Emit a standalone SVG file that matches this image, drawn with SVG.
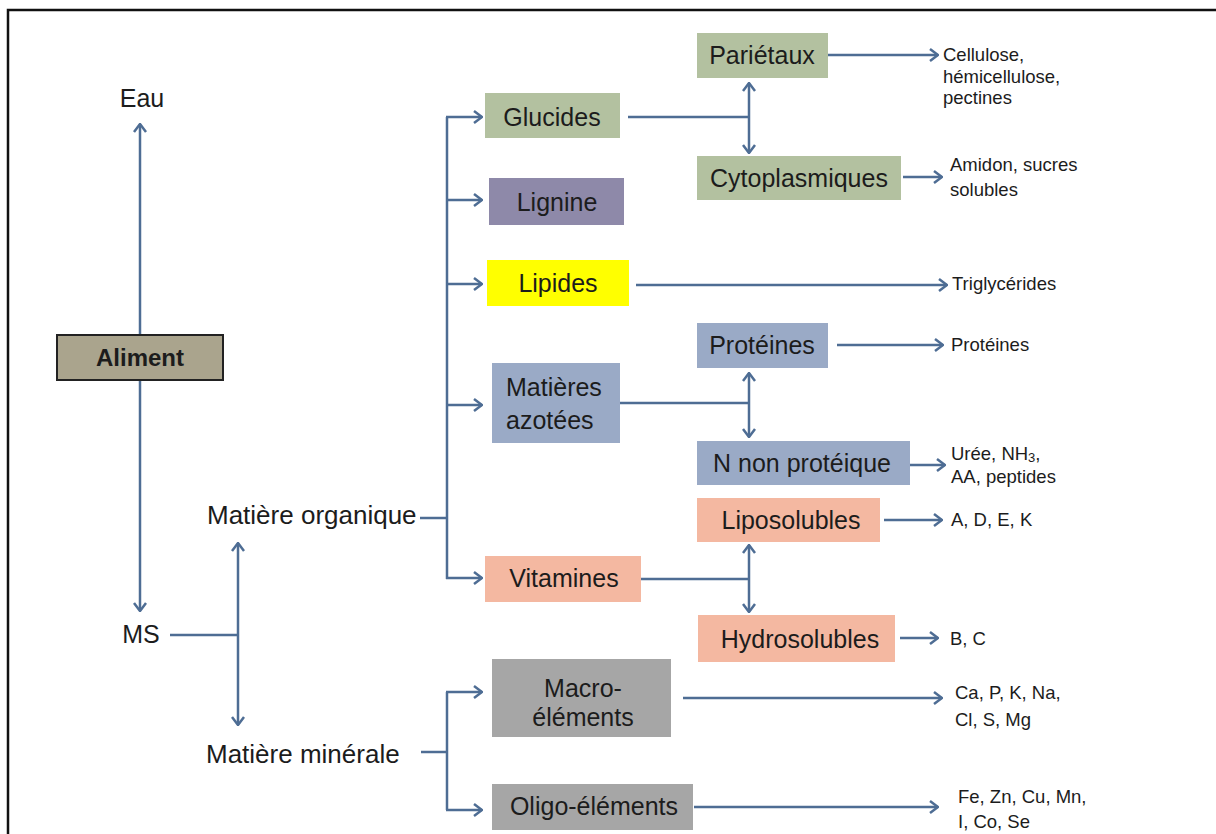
<svg xmlns="http://www.w3.org/2000/svg" width="1216" height="834" viewBox="0 0 1216 834">
<style>
.t{font-family:"Liberation Sans",Arial,sans-serif;fill:#1c1c1c}
.L{font-size:25px}
.S{font-size:18.5px}
.m{text-anchor:middle}
.c{fill:none;stroke:#4e6d94;stroke-width:2.5}
.green{fill:#b3c1a0}
.purple{fill:#8e89a9}
.yellow{fill:#ffff00}
.blue{fill:#9aaac6}
.salmon{fill:#f4b8a1}
.gray{fill:#a6a6a6}
</style>
<defs>
<marker id="ah" viewBox="0 0 10 14" refX="9" refY="7" markerWidth="10" markerHeight="14" orient="auto-start-reverse" markerUnits="userSpaceOnUse">
<path d="M1,1 L9,7 L1,13" fill="none" stroke="#4e6d94" stroke-width="2.5"/>
</marker>
</defs>
<rect width="1216" height="834" fill="#ffffff"/>
<path d="M8,834 L8,10 L1216,10" fill="none" stroke="#111" stroke-width="2.5"/>

<g id="connectors">
<line class="c" x1="140" y1="335" x2="140" y2="124" marker-end="url(#ah)"/>
<line class="c" x1="140" y1="381" x2="140" y2="611" marker-end="url(#ah)"/>
<line class="c" x1="170" y1="635" x2="238" y2="635"/>
<line class="c" x1="238" y1="543" x2="238" y2="725" marker-start="url(#ah)" marker-end="url(#ah)"/>
<line class="c" x1="420" y1="518" x2="447" y2="518"/>
<line class="c" x1="447" y1="117" x2="447" y2="579"/>
<line class="c" x1="446" y1="117" x2="482" y2="117" marker-end="url(#ah)"/>
<line class="c" x1="446" y1="200" x2="482" y2="200" marker-end="url(#ah)"/>
<line class="c" x1="446" y1="284" x2="482" y2="284" marker-end="url(#ah)"/>
<line class="c" x1="446" y1="405" x2="482" y2="405" marker-end="url(#ah)"/>
<line class="c" x1="446" y1="578" x2="482" y2="578" marker-end="url(#ah)"/>
<line class="c" x1="421" y1="752" x2="447" y2="752"/>
<line class="c" x1="447" y1="692" x2="447" y2="810"/>
<line class="c" x1="446" y1="692" x2="482" y2="692" marker-end="url(#ah)"/>
<line class="c" x1="446" y1="810" x2="482" y2="810" marker-end="url(#ah)"/>
<line class="c" x1="628" y1="117" x2="749" y2="117"/>
<line class="c" x1="749" y1="83" x2="749" y2="153" marker-start="url(#ah)" marker-end="url(#ah)"/>
<line class="c" x1="826" y1="55" x2="938" y2="55" marker-end="url(#ah)"/>
<line class="c" x1="903" y1="177" x2="942" y2="177" marker-end="url(#ah)"/>
<line class="c" x1="636" y1="285" x2="947" y2="285" marker-end="url(#ah)"/>
<line class="c" x1="620" y1="403" x2="749" y2="403"/>
<line class="c" x1="749" y1="373" x2="749" y2="437" marker-start="url(#ah)" marker-end="url(#ah)"/>
<line class="c" x1="837" y1="345" x2="943" y2="345" marker-end="url(#ah)"/>
<line class="c" x1="906" y1="465" x2="945" y2="465" marker-end="url(#ah)"/>
<line class="c" x1="641" y1="579" x2="749" y2="579"/>
<line class="c" x1="749" y1="545" x2="749" y2="612" marker-start="url(#ah)" marker-end="url(#ah)"/>
<line class="c" x1="884" y1="520" x2="942" y2="520" marker-end="url(#ah)"/>
<line class="c" x1="900" y1="638" x2="938" y2="638" marker-end="url(#ah)"/>
<line class="c" x1="683" y1="698" x2="942" y2="698" marker-end="url(#ah)"/>
<line class="c" x1="694" y1="807" x2="938" y2="807" marker-end="url(#ah)"/>
</g>

<g id="eau"><text class="t L m" x="142" y="107">Eau</text></g>
<g id="aliment">
<rect x="57" y="335" width="166" height="45" fill="#aaa48d" stroke="#222" stroke-width="2"/>
<text class="t L m" x="140" y="366" font-weight="bold" style="font-size:24px">Aliment</text>
</g>
<g id="ms"><text class="t L m" x="141" y="643">MS</text></g>
<g id="mo"><text class="t L" x="207" y="524" style="font-size:26px">Matière organique</text></g>
<g id="mm"><text class="t L" x="206" y="763" style="font-size:26px">Matière minérale</text></g>

<g id="glucides"><rect class="green" x="485" y="93" width="135" height="45"/><text class="t L m" x="552" y="126">Glucides</text></g>
<g id="lignine"><rect class="purple" x="489" y="178" width="135" height="47"/><text class="t L m" x="557" y="211">Lignine</text></g>
<g id="lipides"><rect class="yellow" x="487" y="260" width="142" height="46"/><text class="t L m" x="558" y="292">Lipides</text></g>
<g id="azotees"><rect class="blue" x="492" y="363" width="128" height="80"/><text class="t L" x="506" y="396">Matières</text><text class="t L" x="506" y="429">azotées</text></g>
<g id="vitamines"><rect class="salmon" x="485" y="556" width="156" height="46"/><text class="t L m" x="564" y="587">Vitamines</text></g>
<g id="macro"><rect class="gray" x="492" y="659" width="179" height="78"/><text class="t L m" x="583" y="697">Macro-</text><text class="t L m" x="583" y="726">éléments</text></g>
<g id="oligo"><rect class="gray" x="492" y="784" width="201" height="46"/><text class="t L m" x="594" y="815">Oligo-éléments</text></g>

<g id="parietaux"><rect class="green" x="697" y="33" width="131" height="45"/><text class="t L m" x="762" y="64">Pariétaux</text></g>
<g id="cyto"><rect class="green" x="697" y="156" width="204" height="44"/><text class="t L m" x="799" y="187">Cytoplasmiques</text></g>
<g id="proteines"><rect class="blue" x="697" y="323" width="131" height="45"/><text class="t L m" x="762" y="354">Protéines</text></g>
<g id="nnp"><rect class="blue" x="697" y="441" width="213" height="44"/><text class="t L m" x="802" y="472">N non protéique</text></g>
<g id="lipo"><rect class="salmon" x="697" y="498" width="183" height="44"/><text class="t L m" x="791" y="529">Liposolubles</text></g>
<g id="hydro"><rect class="salmon" x="698" y="615" width="197" height="47"/><text class="t L m" x="800" y="648">Hydrosolubles</text></g>

<g id="out-parietaux"><text class="t S" x="943" y="61">Cellulose,</text><text class="t S" x="943" y="83">hémicellulose,</text><text class="t S" x="943" y="104">pectines</text></g>
<g id="out-cyto"><text class="t S" x="950" y="171">Amidon, sucres</text><text class="t S" x="950" y="196">solubles</text></g>
<g id="out-lipides"><text class="t S" x="952" y="290">Triglycérides</text></g>
<g id="out-proteines"><text class="t S" x="951" y="351">Protéines</text></g>
<g id="out-nnp"><text class="t S" x="951" y="460">Urée, NH<tspan font-size="13" dy="2">3</tspan><tspan dy="-2">,</tspan></text><text class="t S" x="951" y="483">AA, peptides</text></g>
<g id="out-lipo"><text class="t S" x="951" y="526">A, D, E, K</text></g>
<g id="out-hydro"><text class="t S" x="950" y="645">B, C</text></g>
<g id="out-macro"><text class="t S" x="955" y="699">Ca, P, K, Na,</text><text class="t S" x="955" y="726">Cl, S, Mg</text></g>
<g id="out-oligo"><text class="t S" x="958" y="803">Fe, Zn, Cu, Mn,</text><text class="t S" x="958" y="828">I, Co, Se</text></g>
</svg>
